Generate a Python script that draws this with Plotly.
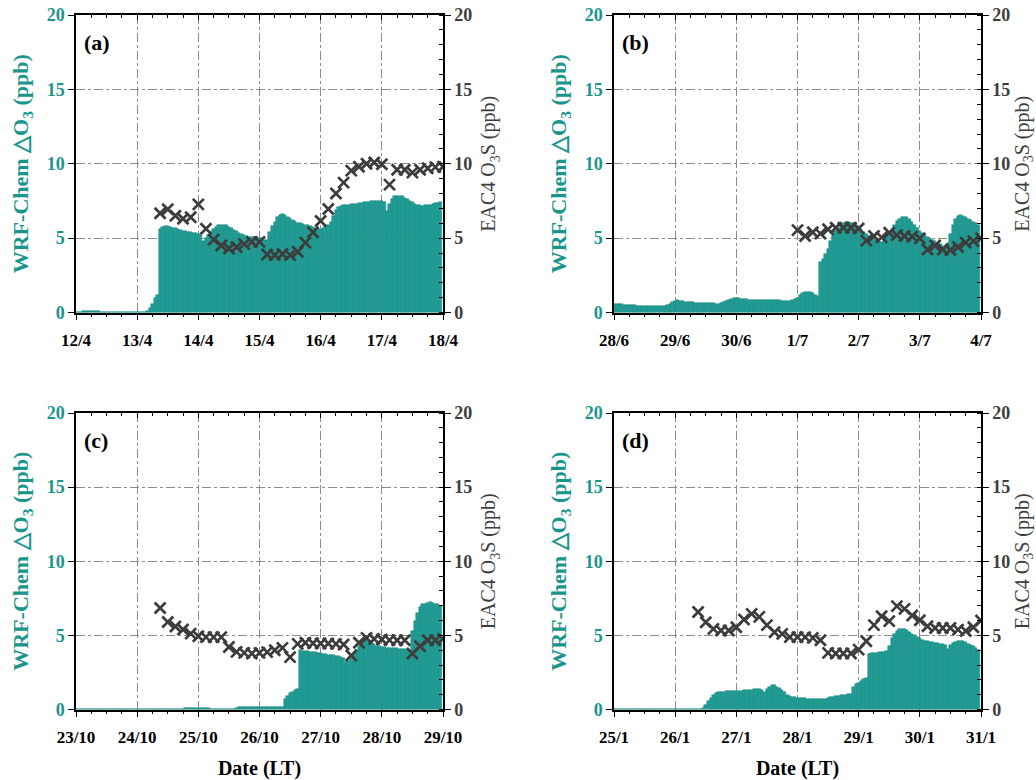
import plotly.graph_objects as go
from datetime import datetime, timedelta

# ---------------- data ----------------
panel_labels = ["(a)", "(b)", "(c)", "(d)"]
panel_starts = ["2018-04-12", "2018-06-28", "2018-10-23", "2019-01-25"]
panel_tick_labels = [
    ["12/4", "13/4", "14/4", "15/4", "16/4", "17/4", "18/4"],
    ["28/6", "29/6", "30/6", "1/7", "2/7", "3/7", "4/7"],
    ["23/10", "24/10", "25/10", "26/10", "27/10", "28/10", "29/10"],
    ["25/1", "26/1", "27/1", "28/1", "29/1", "30/1", "31/1"],
]
# first EAC4 sample time (hours after panel start), samples every 3 h
eac4_first_hour = [33, 72, 33, 33]

# WRF-Chem dO3 hourly (ppb)
wrf_a = [
    0.04, 0.05, 0.06, 0.07, 0.08, 0.08, 0.08, 0.08, 0.07, 0.07, 0.06, 0.06, 0.05, 0.05, 0.05, 0.05, 0.05, 0.05, 0.05, 0.05, 0.05, 0.05, 0.05, 0.05,
    0.05, 0.05, 0.05, 0.05, 0.1, 0.3, 0.6, 1.0, 1.2, 5.6, 5.75, 5.8, 5.8, 5.75, 5.7, 5.65, 5.6, 5.55, 5.5, 5.45, 5.4, 5.38, 5.35, 5.32,
    5.3, 5.2, 4.8, 5.0, 5.2, 5.4, 5.6, 5.75, 5.85, 5.9, 5.9, 5.85, 5.75, 5.65, 5.55, 5.45, 5.35, 5.25, 5.2, 5.15, 5.1, 5.1, 5.05, 5.0,
    5.0, 5.0, 4.9, 4.9, 5.4, 5.8, 6.1, 6.4, 6.55, 6.6, 6.55, 6.45, 6.35, 6.25, 6.15, 6.05, 6.0, 5.95, 5.9, 5.85, 5.8, 5.75, 5.7, 5.65,
    5.6, 5.7, 5.8, 5.9, 6.1, 6.5, 6.9, 7.1, 7.15, 7.2, 7.22, 7.25, 7.28, 7.3, 7.32, 7.35, 7.38, 7.4, 7.42, 7.45, 7.47, 7.48, 7.5, 7.5,
    7.5, 7.45, 6.8, 7.3, 7.6, 7.8, 7.85, 7.85, 7.8, 7.7, 7.6, 7.5, 7.4, 7.3, 7.25, 7.2, 7.18, 7.2, 7.22, 7.25, 7.3, 7.33, 7.36, 7.4,
]
wrf_b = [
    0.55, 0.55, 0.55, 0.55, 0.5, 0.5, 0.5, 0.5, 0.5, 0.45, 0.45, 0.45, 0.45, 0.45, 0.45, 0.45, 0.45, 0.42, 0.42, 0.42, 0.42, 0.5, 0.6, 0.7,
    0.8, 0.82, 0.8, 0.75, 0.7, 0.7, 0.7, 0.7, 0.65, 0.65, 0.65, 0.65, 0.65, 0.65, 0.65, 0.65, 0.6, 0.6, 0.65, 0.7, 0.8, 0.85, 0.9, 0.95,
    0.97, 0.95, 0.93, 0.9, 0.88, 0.85, 0.85, 0.85, 0.85, 0.85, 0.85, 0.85, 0.85, 0.82, 0.82, 0.82, 0.82, 0.82, 0.75, 0.75, 0.75, 0.78, 0.85, 0.9,
    1.0, 1.15, 1.3, 1.4, 1.4, 1.35, 1.3, 1.2, 1.1, 3.4, 3.6, 3.9, 4.3, 4.8, 5.2, 5.5, 5.7, 6.0, 6.05, 6.1, 6.1, 6.05, 6.0, 5.9,
    5.7, 5.6, 5.4, 5.3, 5.15, 5.05, 5.0, 4.9, 4.8, 4.75, 4.95, 5.1, 5.3, 5.6, 5.9, 6.15, 6.3, 6.4, 6.45, 6.4, 6.3, 6.1, 5.9, 5.7,
    5.5, 5.35, 5.2, 5.1, 5.0, 4.9, 4.8, 4.7, 4.6, 4.5, 4.4, 4.7, 5.3, 5.9, 6.3, 6.5, 6.55, 6.5, 6.4, 6.3, 6.2, 6.1, 6.0, 5.9,
]
wrf_c = [
    0.02, 0.02, 0.02, 0.02, 0.02, 0.02, 0.02, 0.02, 0.02, 0.02, 0.02, 0.02, 0.02, 0.02, 0.02, 0.02, 0.02, 0.02, 0.02, 0.02, 0.02, 0.02, 0.02, 0.02,
    0.05, 0.05, 0.05, 0.05, 0.05, 0.05, 0.05, 0.06, 0.06, 0.06, 0.06, 0.06, 0.06, 0.04, 0.04, 0.04, 0.04, 0.04, 0.04, 0.08, 0.08, 0.08, 0.08, 0.08,
    0.1, 0.1, 0.1, 0.1, 0.1, 0.06, 0.06, 0.06, 0.06, 0.06, 0.06, 0.04, 0.04, 0.04, 0.04, 0.1, 0.15, 0.15, 0.15, 0.15, 0.15, 0.15, 0.15, 0.15,
    0.2, 0.2, 0.2, 0.2, 0.2, 0.2, 0.2, 0.2, 0.2, 0.2, 0.7, 0.9, 1.1, 1.2, 1.3, 1.35, 4.0, 3.98, 3.95, 3.92, 3.9, 3.88, 3.85, 3.8,
    3.78, 3.75, 3.72, 3.7, 3.68, 3.65, 3.62, 3.58, 3.52, 3.45, 3.2, 3.3, 3.45, 3.7, 4.0, 4.3, 4.5, 4.65, 4.7, 4.65, 4.5, 4.4, 4.3, 4.25,
    4.22, 4.2, 4.18, 4.16, 4.15, 4.14, 4.12, 4.1, 4.08, 4.06, 4.04, 4.02, 5.3, 6.0, 6.5, 6.9, 7.1, 7.15, 7.2, 7.22, 7.2, 7.15, 7.1, 7.0,
]
wrf_d = [
    0.01, 0.01, 0.01, 0.01, 0.01, 0.01, 0.01, 0.01, 0.01, 0.01, 0.01, 0.01, 0.01, 0.01, 0.01, 0.01, 0.01, 0.01, 0.01, 0.01, 0.01, 0.01, 0.01, 0.01,
    0.01, 0.01, 0.01, 0.01, 0.01, 0.01, 0.01, 0.01, 0.01, 0.03, 0.06, 0.12, 0.3, 0.55, 0.8, 1.0, 1.12, 1.18, 1.2, 1.2, 1.22, 1.23, 1.24, 1.25,
    1.26, 1.27, 1.28, 1.3, 1.31, 1.32, 1.33, 1.35, 1.35, 1.35, 1.3, 1.2, 1.4, 1.55, 1.65, 1.62, 1.55, 1.45, 1.3, 1.15, 1.0, 0.92, 0.86, 0.82,
    0.8, 0.78, 0.76, 0.75, 0.74, 0.72, 0.71, 0.7, 0.69, 0.68, 0.7, 0.74, 0.78, 0.82, 0.86, 0.9, 0.93, 0.96, 0.98, 1.0, 1.02, 1.05, 1.55, 1.7,
    1.8, 1.95, 2.05, 2.1, 3.75, 3.78, 3.8, 3.82, 3.85, 3.87, 3.9, 3.95, 4.3, 4.8, 5.1, 5.3, 5.4, 5.45, 5.4, 5.35, 5.25, 5.1, 5.0, 4.9,
    4.8, 4.72, 4.65, 4.6, 4.57, 4.54, 4.5, 4.48, 4.45, 4.42, 4.38, 4.1, 4.35, 4.5, 4.58, 4.62, 4.65, 4.62, 4.55, 4.45, 4.35, 4.25, 4.15, 4.0,
]

# EAC4 O3S 3-hourly (ppb)
eac4_a = [6.67, 6.94, 6.5, 6.3, 6.4, 7.27, 5.63, 4.9, 4.5, 4.3, 4.4, 4.6, 4.75, 4.75,
          3.9, 3.86, 3.93, 3.86, 4.08, 4.7, 5.4, 6.15, 6.96, 8.0, 8.73, 9.54, 9.8, 10.0,
          10.08, 9.97, 8.6, 9.6, 9.6, 9.4, 9.6, 9.7, 9.77, 9.8]
eac4_b = [5.54, 5.14, 5.4, 5.3, 5.6, 5.7, 5.7, 5.7, 5.65, 4.83, 5.14, 5.05, 5.36,
          5.2, 5.14, 5.1, 4.98, 4.24, 4.5, 4.24, 4.2, 4.4, 4.7, 4.8, 5.0]
eac4_c = [6.85, 5.9, 5.6, 5.4, 5.12, 4.94, 4.88, 4.88, 4.88, 4.22, 3.89, 3.82, 3.78,
          3.82, 3.87, 4.0, 4.16, 3.53, 4.43, 4.5, 4.47, 4.45, 4.45, 4.43, 4.38, 3.64,
          4.5, 4.83, 4.76, 4.72, 4.68, 4.67, 4.67, 3.78, 4.27, 4.67, 4.67, 4.76]
eac4_d = [6.58, 5.89, 5.44, 5.33, 5.33, 5.55, 6.07, 6.45, 6.25, 5.69, 5.21, 5.1, 4.88,
          4.88, 4.88, 4.83, 4.67, 3.82, 3.78, 3.78, 3.78, 4.04, 4.6, 5.69, 6.29, 5.96,
          6.97, 6.79, 6.34, 6.02, 5.62, 5.5, 5.5, 5.5, 5.39, 5.3, 5.55, 6.0]

wrf_series = [wrf_a, wrf_b, wrf_c, wrf_d]
eac4_series = [eac4_a, eac4_b, eac4_c, eac4_d]

# ---------------- style ----------------
TEAL = "#1f9e95"
TEAL_EDGE = "#13827a"
TEAL_TXT = "#1a958c"
GRAY_TXT = "#3e3e3e"
MARK = "#3c3c3c"
GRID = "#8c8c8c"
FONT = "Liberation Serif"

W, H = 1036, 780


def dom_x(a, b):
    return [a / W, b / W]


def dom_y(top, bottom):
    return [1 - bottom / H, 1 - top / H]


xdoms = [dom_x(76, 443), dom_x(614, 981)]
ydoms = [dom_y(15, 312.5), dom_y(413, 709.5)]


def ax_id(letter, n):
    return letter if n == 1 else f"{letter}{n}"


fig = go.Figure()
layout = dict(
    width=W, height=H, margin=dict(l=0, r=0, t=0, b=0, autoexpand=False),
    paper_bgcolor="white", plot_bgcolor="white", showlegend=False,
    bargap=0, font=dict(family=FONT, size=16, color="black"),
)
annotations = []

for i in range(4):
    p = i + 1
    xb, xt, yl, yr = ax_id("x", p), ax_id("x", p + 4), ax_id("y", p), ax_id("y", p + 4)
    start = datetime.strptime(panel_starts[i], "%Y-%m-%d")
    hours = [start + timedelta(hours=h) for h in range(len(wrf_series[i]))]
    etimes = [start + timedelta(hours=eac4_first_hour[i] + 3 * k) for k in range(len(eac4_series[i]))]
    ticks = [start + timedelta(days=d) for d in range(len(panel_tick_labels[i]))]
    rng = [ticks[0], ticks[-1]]

    fig.add_trace(go.Bar(
        x=hours, y=wrf_series[i], xaxis=xb, yaxis=yl, width=3600000,
        marker=dict(color=TEAL, line=dict(color=TEAL_EDGE, width=0.5)),
        hoverinfo="skip",
    ))
    fig.add_trace(go.Scatter(
        x=etimes, y=eac4_series[i], xaxis=xb, yaxis=yr, mode="markers",
        marker=dict(symbol="x-thin", size=11, line=dict(color=MARK, width=2.7)),
        hoverinfo="skip",
    ))
    # invisible helper so the top frame axis is drawn
    fig.add_trace(go.Scatter(
        x=[ticks[0]], y=[0], xaxis=xt, yaxis=yl, mode="markers",
        marker=dict(opacity=0), hoverinfo="skip",
    ))

    col = i % 2
    row = i // 2
    layout["xaxis" if p == 1 else f"xaxis{p}"] = dict(
        domain=xdoms[col], anchor=yl, range=rng, type="date", automargin=False,
        tickvals=ticks, ticktext=panel_tick_labels[i], ticklabeloverflow="allow",
        tickfont=dict(family=FONT, size=17, color="black", weight="bold"),
        ticks="outside", ticklen=6, tickwidth=1.3, tickcolor="black", ticklabelstandoff=5,
        minor=dict(dtick=6 * 3600000, ticks="outside", ticklen=3, tickwidth=1, tickcolor="black", showgrid=False),
        showline=True, linecolor="black", linewidth=1.5,
        showgrid=True, gridcolor=GRID, griddash="dashdot", gridwidth=1,
        zeroline=False,
        title=dict(text="Date (LT)" if row == 1 else "", standoff=18,
                   font=dict(family=FONT, size=20, color="black", weight="bold")),
    )
    layout[f"xaxis{p+4}"] = dict(
        overlaying=xb, anchor=yl, side="top", range=rng, type="date", automargin=False,
        tickvals=ticks, showticklabels=False,
        ticks="inside", ticklen=5, tickwidth=1.3, tickcolor="black",
        minor=dict(dtick=6 * 3600000, ticks="inside", ticklen=3, tickwidth=1, tickcolor="black", showgrid=False),
        showline=True, linecolor="black", linewidth=1.5, showgrid=False, zeroline=False,
    )
    layout["yaxis" if p == 1 else f"yaxis{p}"] = dict(
        domain=ydoms[row], anchor=xb, range=[0, 20], dtick=5, tick0=0, automargin=False,
        ticklabeloverflow="allow",
        tickfont=dict(family=FONT, size=18, color=TEAL_TXT, weight="bold"),
        ticks="outside", ticklen=6, tickwidth=1.3, tickcolor="black",
        showline=True, linecolor="black", linewidth=1.5,
        showgrid=True, gridcolor=GRID, griddash="dashdot", gridwidth=1,
        zeroline=False,
        title=dict(text="WRF-Chem △O<sub>3</sub> (ppb)", standoff=12,
                   font=dict(family=FONT, size=22, color=TEAL_TXT, weight="bold")),
    )
    layout[f"yaxis{p+4}"] = dict(
        overlaying=yl, anchor=xb, side="right", range=[0, 20], dtick=5, tick0=0, automargin=False,
        ticklabeloverflow="allow",
        tickfont=dict(family=FONT, size=18, color=GRAY_TXT, weight="bold"),
        ticks="outside", ticklen=6, tickwidth=1.3, tickcolor="black",
        minor=dict(dtick=1, ticks="inside", ticklen=4, tickwidth=1, tickcolor="black", showgrid=False),
        showline=True, linecolor="black", linewidth=1.5, showgrid=False, zeroline=False,
        title=dict(text="EAC4 O<sub>3</sub>S (ppb)", standoff=10,
                   font=dict(family=FONT, size=20, color=GRAY_TXT)),
    )
    annotations.append(dict(
        text=panel_labels[i], xref=f"{xb} domain", yref=f"{yl} domain",
        x=0.015, y=0.955, xanchor="left", yanchor="top", showarrow=False,
        font=dict(family=FONT, size=22, color="black", weight="bold"),
    ))

layout["annotations"] = annotations
fig.update_layout(**layout)
# drop the browser's default page margin so the figure fills the window exactly
fig.write_html("out.html", config={"displayModeBar": False},
               post_script="document.body.style.margin='0px';")
